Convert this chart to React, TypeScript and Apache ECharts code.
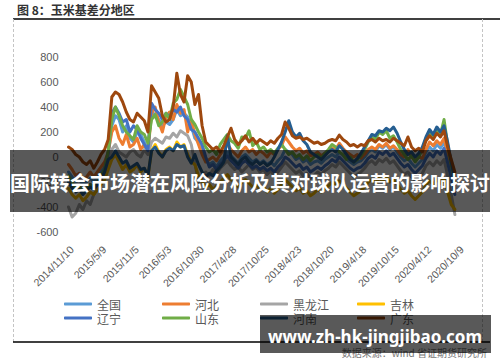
import React, { useEffect, useRef } from "react";
import * as echarts from "echarts";

// ---- data ----
const startDateUTC = Date.UTC(2014, 9, 21); // first category date
const stepDays = 20;
const categoryCount = 111;
const categories: string[] = Array.from({ length: categoryCount }, (_, i) => {
  const d = new Date(startDateUTC + i * stepDays * 86400000);
  return `${d.getUTCFullYear()}/${d.getUTCMonth() + 1}/${d.getUTCDate()}`;
});

const xTickLabels = [
  "2014/11/10", "2015/5/9", "2015/11/5", "2016/5/3", "2016/10/30", "2017/4/28",
  "2017/10/25", "2018/4/23", "2018/10/20", "2019/4/18", "2019/10/15", "2020/4/12", "2020/10/9",
];

const yTicks = { min: -600, max: 800, interval: 200 };

const seriesNames = ["全国", "河北", "黑龙江", "吉林", "辽宁", "山东", "河南", "广东"];
const seriesColors = ["#5B9BD5", "#ED7D31", "#A5A5A5", "#FFC000", "#4472C4", "#70AD47", "#255E91", "#9E480E"];

const quanguo = [
  -120, -160, -200, -180, -220, -200, -170, -200, -160, -120, -80,
  20, 250, 330, 300, 200, 250, 150, 120, 200, 180, 120, 60, 380, 320, 300, 250, 280, 260, 300,
  380, 330, 350, 320, 250, 150, 120, 50, -20, -60, -40, -80, -30, 0, 40, 10, -20, -50, 0, 20,
  -10, -40, -20, -50, -30, -60, -40, -70, -30, 0, 60, 40, 20, -20, 0, -40, -20, -60, -40, -30,
  -50, -20, 0, 20, 0, 40, 10, -20, -40, -60, -40, -30, 0, 40, 60, 40, 90, 70, 100, 60,
  80, 40, 0, -30, -10, -50, -80, -50, -20, 40, 80, 50, 100, 70, 120, 0, -120, -250,
];
const hebei = [
  -60, -100, -150, -130, -180, -160, -120, -160, -120, -80, -40,
  40, 200, 250, 150, 100, 180, 80, 100, 150, 60, 100, 40, 350, 400, 280, 200, 320, 360, 300,
  420, 350, 380, 200, 300, 180, 100, 20, -40, -20, 0, -30, 20, 60, 100, 60, 30, 0, 50, 80,
  40, 60, 20, 50, 30, 0, 40, 20, 60, 90, 160, 120, 80, 50, 70, 30, 50, 10, 20, 40,
  10, 30, 50, 70, 60, 110, 70, 40, 20, 0, 20, -10, 20, 60, 80, 60, 100, 80, 110, 70,
  90, 60, 20, 0, 60, 0, -30, 0, -10, 60, 120, 90, 130, 100, 150, 30, -60, -160,
];
const heilongjiang = [
  -400, -480, -450, -380, -420, -350, -380, -300, -250, -200, -120,
  -50, 60, 100, 40, 20, 0, 40, 60, 20, 0, 60, 20, 120, 150, 130, 110, 160, 150, 190,
  160, 210, 190, 170, 100, -50, -200, -160, -120, -150, -100, -130, -90, -60, -30, -70, -100, -80, -120, -90,
  -60, -100, -80, -120, -100, -140, -110, -150, -120, -80, -40, -70, -100, -130, -110, -150, -130, -170, -150, -120,
  -140, -110, -90, -60, -80, -40, -70, -100, -130, -160, -140, -120, -90, -50, -30, -60, -20, -40, -10, -50,
  -30, -70, -110, -140, -120, -160, -190, -160, -130, -70, -40, -70, -30, -60, -20, -150, -300, -460,
];
const jilin = [
  -250, -300, -330, -300, -350, -320, -280, -300, -260, -220, -180,
  -100, -20, 20, -40, -100, -60, -120, -100, -60, -120, -90, -160, 50, 100, 40, 0, 60, 80, 50,
  120, 80, 100, 20, -40, -60, -150, -200, -240, -220, -260, -230, -200, -170, -140, -180, -210, -240, -200, -180,
  -210, -240, -220, -260, -240, -280, -250, -290, -260, -220, -180, -210, -240, -270, -250, -290, -270, -310, -290, -260,
  -280, -250, -230, -200, -220, -190, -220, -250, -280, -310, -290, -270, -240, -200, -180, -210, -170, -190, -160, -200,
  -180, -220, -260, -290, -270, -310, -340, -310, -280, -220, -190, -220, -180, -210, -170, -280, -380, -420,
];
const liaoning = [
  -180, -220, -260, -240, -280, -250, -220, -240, -200, -160, -100,
  30, 350, 400, 350, 280, 300, 200, 250, 220, 150, 100, 50, 430, 380, 350, 300, 350, 320, 380,
  360, 400, 330, 300, 220, 200, 150, 100, 0, -80, -60, -100, -60, -30, 10, -30, -60, -90, -50, -30,
  -60, -90, -70, -100, -80, -110, -90, -120, -80, -50, 0, -20, -50, -80, -60, -100, -80, -120, -100, -80,
  -100, -70, -50, -20, -40, 0, -30, -60, -90, -110, -90, -80, -50, -10, 10, -10, 40, 20, 50, 10,
  30, -10, -50, -80, -60, -100, -130, -100, -70, -10, 30, 0, 50, 20, 70, -50, -170, -300,
];
const shandong = [
  -150, -200, -250, -230, -280, -260, -220, -250, -200, -150, -100,
  50, 300, 400, 330, 250, 200, 170, 140, 250, 200, 180, 110, 300, 340, 250, 280, 350, 300, 430,
  460, 540, 480, 420, 300, 260, 200, 150, 80, 40, 60, 20, 100, 140, 180, 130, 110, 70, 160, 150,
  210, 90, 120, 60, 80, 40, 60, 30, 70, 100, 60, 20, 40, 0, 20, -20, 10, -30, 0, 20,
  -10, 30, 60, 100, 80, 40, 20, -20, 0, -40, -20, 10, 60, 120, 160, 140, 200, 180, 210, 150,
  170, 120, 60, 20, -20, 10, -40, 0, 60, 150, 200, 150, 230, 180, 300, 100, -60, -200,
];
const henan = [
  -200, -250, -280, -260, -300, -270, -240, -260, -220, -180, -120,
  -20, 0, 50, 0, -50, -30, -90, -70, -50, -100, -90, -150, 50, 80, 30, 0, 50, 70, 50,
  100, 80, 90, 0, -50, 20, -60, -120, -160, -130, -150, -110, -80, -40, 170, 0, -30, -60, -20, 0,
  -40, -60, -30, -60, -40, -70, -50, 0, 60, 120, 200, 290, 200, 160, 190, 130, 100, 40, 20, 0,
  -20, 10, 40, 60, 40, 90, 60, 20, -20, -40, -10, 30, 80, 130, 180, 170, 210, 200, 230, 210,
  240, 190, 120, 60, 20, 40, 0, 30, 80, 160, 220, 180, 240, 200, 250, 120, -40, -180,
];
const guangdong = [
  80, 60, 20, 0, -40, -60, -30, -90, -40, 20, 60,
  140, 480, 520, 500, 440, 360, 300, 280, 350, 320, 290, 200, 570, 520, 470, 330, 280, 300, 400,
  670, 500, 440, 650, 600, 420, 500, 250, 120, 90, 60, 80, 40, 90, 160, 230, 140, 100, 130, 170,
  120, 150, 110, 140, 120, 100, 130, 110, 150, 180, 280, 230, 170, 150, 160, 140, 150, 130, 110, 120,
  100, 110, 130, 140, 130, 175, 140, 120, 90, 100, 80, 100, 90, 130, 140, 120, 150, 130, 140, 120,
  150, 130, 110, 90, 160, 80, 50, 70, 40, 130, 170, 140, 190, 160, 210, 80, -20, -120,
];
const seriesValues = [quanguo, hebei, heilongjiang, jilin, liaoning, shandong, henan, guangdong];

const legendColumns = [
  ["全国", "辽宁"],
  ["河北", "山东"],
  ["黑龙江", "河南"],
  ["吉林", "广东"],
];
const legendLefts = [64, 162, 260, 357];

const chartTitle = "图 8：玉米基差分地区";
const bannerText = "国际转会市场潜在风险分析及其对球队运营的影响探讨";
const watermarkText = "www.zh-hk-jingjibao.com";
const sourceText = "数据来源：wind 省证期货研究所";

export default function App() {
  const ref = useRef<HTMLDivElement>(null);
  useEffect(() => {
    if (!ref.current) return;
    const chart = echarts.init(ref.current, null, { renderer: "svg" });
    const pad = (arr: number[]) => {
      const out: (number | null)[] = arr.slice();
      while (out.length < categoryCount) out.push(null);
      return out;
    };
    chart.setOption({
      animation: false,
      backgroundColor: "#ffffff",
      grid: { left: 68.5, right: 34.3, top: 57, bottom: 130, outerBoundsMode: "none", containLabel: false },
      xAxis: {
        type: "category",
        data: categories,
        boundaryGap: false,
        axisLine: { show: false, onZero: false },
        axisTick: { show: false },
        splitLine: { show: false },
        axisLabel: {
          interval: (_idx: number, val: string) => xTickLabels.includes(val),
          rotate: 45,
          margin: 16,
          fontSize: 10.5,
          color: "#595959",
          fontFamily: "Liberation Sans",
        },
      },
      yAxis: {
        type: "value",
        min: yTicks.min,
        max: yTicks.max,
        interval: yTicks.interval,
        axisLine: { show: false },
        axisTick: { show: false },
        splitLine: { show: false },
        axisLabel: { margin: 10, fontSize: 11, color: "#595959", fontFamily: "Liberation Sans" },
      },
      legend: legendColumns.map((names, k) => ({
        data: names,
        orient: "vertical",
        left: legendLefts[k],
        top: 297,
        padding: 0,
        itemWidth: 28,
        itemHeight: 3,
        itemGap: 0,
        icon: "roundRect",
        selectedMode: false,
        textStyle: { fontSize: 12, color: "#595959", lineHeight: 14, fontFamily: "Noto Sans CJK SC" },
      })),
      series: seriesNames.map((name, k) => ({
        name,
        type: "line",
        data: pad(seriesValues[k]),
        symbol: "none",
        silent: true,
        itemStyle: { color: seriesColors[k] },
        lineStyle: { color: seriesColors[k], width: 3, cap: "round", join: "round" },
      })),
      graphic: [
        {
          type: "text",
          left: 17,
          top: 3,
          style: { text: chartTitle, font: "bold 12px 'Noto Sans CJK SC'", fill: "#333333" },
        },
        { type: "line", shape: { x1: 13, y1: 19, x2: 500, y2: 19 }, style: { stroke: "#000", lineWidth: 1.3 } },
        { type: "line", shape: { x1: 13.5, y1: 19, x2: 13.5, y2: 342 }, style: { stroke: "#c4c4c4", lineWidth: 1, lineDash: [3, 2] } },
        { type: "line", shape: { x1: 482.5, y1: 19, x2: 482.5, y2: 342 }, style: { stroke: "#c4c4c4", lineWidth: 1, lineDash: [3, 2] } },
        { type: "line", shape: { x1: 13, y1: 342, x2: 490, y2: 342 }, style: { stroke: "#000", lineWidth: 1.3 } },
        {
          type: "text",
          x: 487,
          y: 352,
          style: { text: sourceText, font: "10px 'Noto Sans CJK SC'", fill: "#777", align: "right", verticalAlign: "middle" },
        },
        { type: "rect", z: 100, shape: { x: 10, y: 150, width: 480, height: 62 }, style: { fill: "rgba(0,0,0,0.65)" } },
        {
          type: "text",
          z: 101,
          x: 250,
          y: 182,
          style: { text: bannerText, font: "bold 20px 'Noto Sans CJK SC'", fill: "#ffffff", align: "center", verticalAlign: "middle" },
        },
        { type: "rect", z: 100, shape: { x: 260, y: 315, width: 231, height: 38 }, style: { fill: "rgba(0,0,0,0.65)" } },
        {
          type: "text",
          z: 101,
          x: 375,
          y: 336,
          style: { text: watermarkText, font: "bold 17px 'Noto Sans'", fill: "#ffffff", align: "center", verticalAlign: "middle" },
        },
      ],
    });
    return () => chart.dispose();
  }, []);
  return <div ref={ref} style={{ position: "fixed", left: 0, top: 0, width: 500, height: 362 }} />;
}
